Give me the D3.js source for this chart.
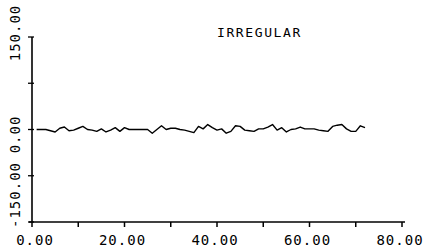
<!DOCTYPE html>
<html>
<head>
<meta charset="utf-8">
<script src="https://cdn.jsdelivr.net/npm/d3@7"></script>
<style>
html,body{margin:0;padding:0;background:#fff;}
svg{display:block;}
text{font-family:"DejaVu Sans Mono",monospace;fill:#000;}
</style>
</head>
<body>
<svg id="chart" width="431" height="252"></svg>
<script>
const title = "IRREGULAR";
const xTicks = [0,10,20,30,40,50,60,70,80];
const xTickLabels = [0,20,40,60,80];
const yTicks = [150,75,0,-75,-150];
const yTickLabels = [150,0,-150];
const time = d3.range(1,73);
const irregular = [0,0,0,-2,-4,2,4,-2,-1,2,5,0,-1,-3,1,-4,-1,3,-3,3,
  0,0,0,0,0,-6,0,6,0,2,2,0,-1,-3,-5,5,1,8,3,-1,
  1,-6,-3,6,5,-1,-2,-3,1,1,4,8,-1,3,-4,0,1,4,1,1,
  1,-1,-2,-3,5,7,8,1,-3,-3,6,3];

const svg = d3.select("#chart");
svg.append("rect").attr("width",431).attr("height",252).attr("fill","#fff");

const x = d3.scaleLinear().domain([0,80]).range([32,402]);
const y = d3.scaleLinear().domain([-150,150]).range([222,37]);

const g = svg.append("g").attr("stroke","#000").attr("fill","none");
// y axis
g.append("line").attr("x1",x(0)).attr("x2",x(0)).attr("y1",y(150)).attr("y2",y(-150)).attr("stroke-width",1.6);
yTicks.forEach(v=>{
  g.append("line").attr("x1",x(0)-4).attr("x2",x(0)+2).attr("y1",y(v)).attr("y2",y(v)).attr("stroke-width",1.3);
});
// x axis
g.append("line").attr("x1",x(0)-3).attr("x2",x(80)+3).attr("y1",y(-150)).attr("y2",y(-150)).attr("stroke-width",1.3);
xTicks.forEach(v=>{
  g.append("line").attr("x1",x(v)).attr("x2",x(v)).attr("y1",y(-150)).attr("y2",y(-150)+5).attr("stroke-width",1.5);
});

// x labels
svg.selectAll("text.xl").data(xTickLabels).enter().append("text")
  .attr("class","xl")
  .attr("x",d=>x(d)+(d===0?3:-2)).attr("y",245)
  .attr("text-anchor","middle")
  .style("font-size","14px").style("letter-spacing","1px")
  .text(d=>d.toFixed(2));

// y labels (rotated)
const yOff = {"150":-4,"0":5,"-150":-27};
svg.selectAll("text.yl").data(yTickLabels).enter().append("text")
  .attr("class","yl")
  .attr("transform",d=>`translate(20,${y(d)+yOff[String(d)]}) rotate(-90)`)
  .attr("text-anchor","middle")
  .style("font-size","14px").style("letter-spacing","1px")
  .text(d=>d.toFixed(2));

// title
svg.append("text").attr("x",217).attr("y",37)
  .style("font-size","13px").style("letter-spacing","1.6px")
  .text(title);

// series line
const line = d3.line().x((d,i)=>x(time[i])).y(d=>y(d)).curve(d3.curveLinear);
svg.append("path").datum(irregular)
  .attr("d",line).attr("fill","none").attr("stroke","#000").attr("stroke-width",1.4)
  .attr("stroke-linejoin","round");
</script>
</body>
</html>
